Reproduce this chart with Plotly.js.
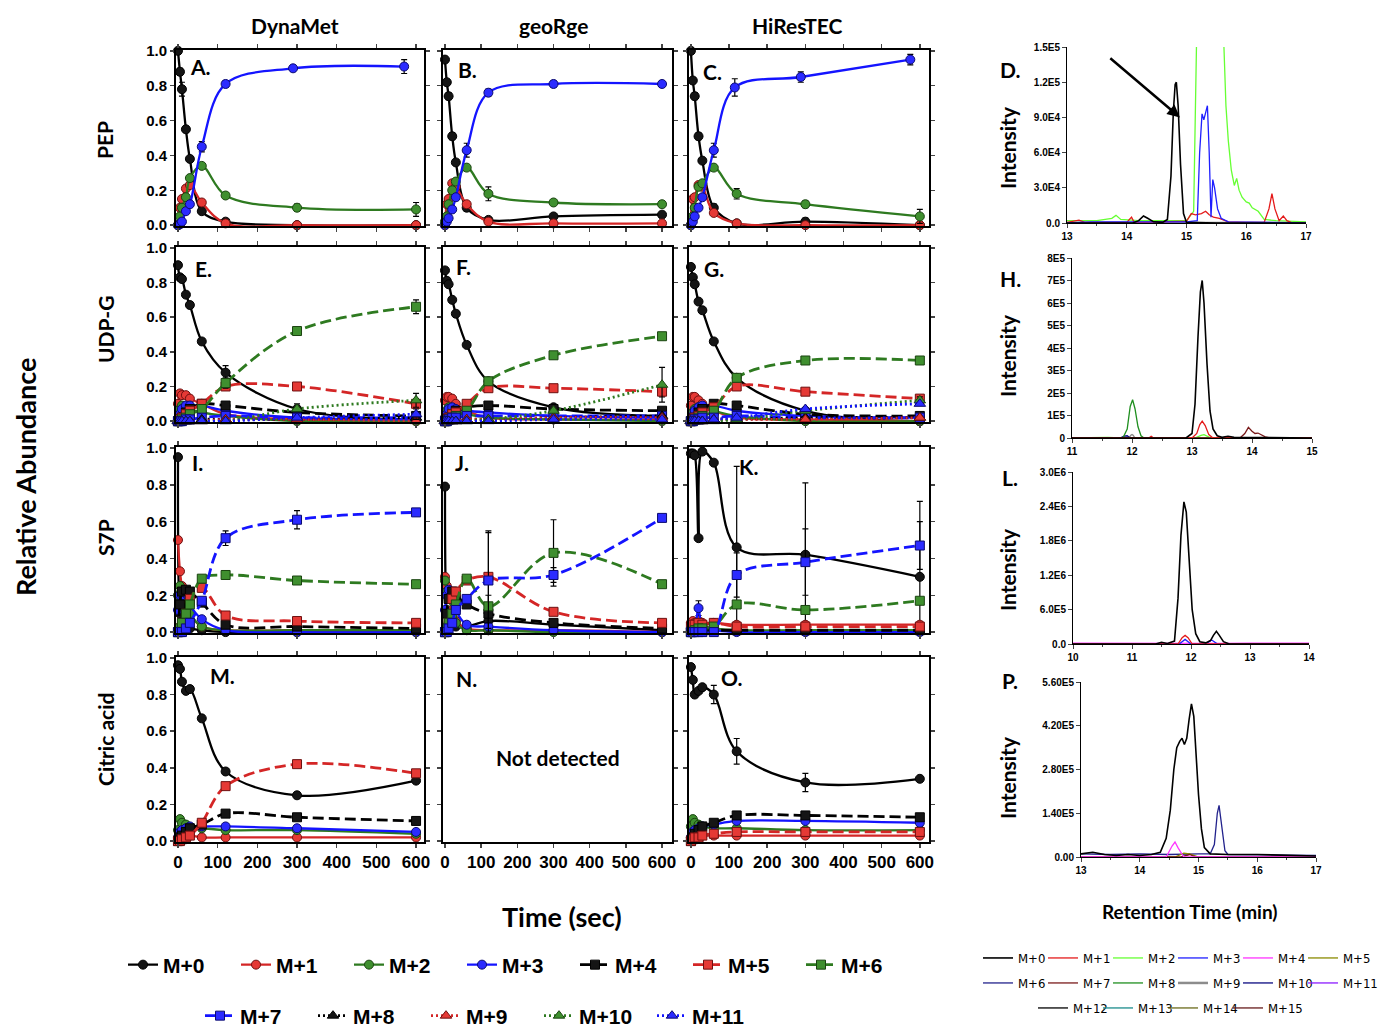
<!DOCTYPE html>
<html><head><meta charset="utf-8">
<script src="https://cdn.plot.ly/plotly-3.0.1.min.js"></script>
<style>html,body{margin:0;padding:0;background:#fff}#chart{width:1379px;height:1031px}</style>
</head><body><div id="chart"></div>
<script>
// ---------------- DATA ----------------
const T    = [0, 5, 10, 20, 30, 60, 120, 300, 600];
const T_A3 = [0, 5, 10, 20, 30, 60, 120, 290, 570];
const T_C3 = [0, 5, 10, 20, 30, 60, 115, 288, 575];

// A. PEP DynaMet
const A_M0 = [1.0, 0.88, 0.78, 0.55, 0.38, 0.08, 0.02, 0.0, 0.0];
const A_M1 = [0.0, 0.10, 0.15, 0.21, 0.23, 0.13, 0.01, 0.0, 0.0];
const A_M2 = [0.0, 0.05, 0.10, 0.16, 0.27, 0.34, 0.17, 0.10, 0.09];
const A_M3 = [0.0, 0.005, 0.02, 0.08, 0.12, 0.45, 0.81, 0.90, 0.91];
const A_M0_ERR = [null, 0.02, 0.04, 0.01, 0.01, 0.01, null, null, null];
const A_M2_ERR = [null, null, null, null, null, null, 0.015, 0.02, 0.04];
const A_M3_ERR = [null, null, null, null, null, 0.03, 0.02, 0.015, 0.04];
// B. PEP geoRge
const B_M0 = [0.95, 0.82, 0.74, 0.51, 0.36, 0.10, 0.03, 0.05, 0.06];
const B_M1 = [0.0, 0.12, 0.15, 0.24, 0.22, 0.12, 0.02, 0.01, 0.01];
const B_M2 = [0.02, 0.05, 0.12, 0.20, 0.25, 0.33, 0.18, 0.13, 0.12];
const B_M3 = [0.0, 0.02, 0.04, 0.09, 0.16, 0.43, 0.76, 0.81, 0.81];
const B_M0_ERR = [null, 0.01, 0.02, 0.02, 0.01, 0.02, null, null, null];
const B_M2_ERR = [null, null, null, null, null, null, 0.04, 0.01, null];
const B_M3_ERR = [null, null, null, null, null, 0.04, 0.02, 0.02, null];
// C. PEP HiResTEC
const C_M0 = [1.0, 0.83, 0.74, 0.51, 0.37, 0.10, 0.01, 0.02, 0.0];
const C_M1 = [0.0, 0.15, 0.16, 0.23, 0.22, 0.07, 0.01, 0.0, 0.0];
const C_M2 = [0.0, 0.05, 0.10, 0.22, 0.24, 0.33, 0.18, 0.12, 0.05];
const C_M3 = [0.0, 0.02, 0.05, 0.10, 0.16, 0.43, 0.79, 0.85, 0.95];
const C_M0_ERR = [null, 0.01, 0.02, 0.02, 0.01, 0.02, null, 0.02, null];
const C_M2_ERR = [null, null, null, null, null, null, 0.03, 0.02, 0.04];
const C_M3_ERR = [null, null, null, null, null, 0.04, 0.05, 0.03, 0.03];
// E. UDP-G DynaMet
const E_M0  = [0.90, 0.83, 0.82, 0.73, 0.67, 0.46, 0.28, 0.07, 0.01];
const E_M1  = [0.10, 0.16, 0.15, 0.15, 0.13, 0.10, 0.04, 0.01, 0.0];
const E_M2  = [0.01, 0.07, 0.09, 0.08, 0.07, 0.05, 0.03, 0.0, 0.0];
const E_M3  = [0.0, 0.04, 0.07, 0.09, 0.09, 0.09, 0.06, 0.02, 0.01];
const E_M4  = [0.0, 0.01, 0.02, 0.05, 0.07, 0.10, 0.09, 0.05, 0.03];
const E_M5  = [0.0, 0.01, 0.02, 0.04, 0.06, 0.10, 0.20, 0.20, 0.10];
const E_M6  = [0.0, 0.0, 0.01, 0.02, 0.04, 0.07, 0.22, 0.52, 0.66];
const E_M7  = [0.0, 0.0, 0.0, 0.01, 0.01, 0.02, 0.03, 0.02, 0.02];
const E_M8  = [0.0, 0.0, 0.0, 0.0, 0.0, 0.01, 0.01, 0.01, 0.02];
const E_M9  = [0.0, 0.0, 0.0, 0.0, 0.0, 0.0, 0.01, 0.01, 0.0];
const E_M10 = [0.0, 0.0, 0.0, 0.0, 0.0, 0.0, 0.0, 0.07, 0.12];
const E_M11 = [0.0, 0.0, 0.0, 0.0, 0.0, 0.0, 0.0, 0.02, 0.04];
const E_M0_ERR  = [null, null, null, null, null, null, 0.04, 0.03, null];
const E_M6_ERR  = [null, null, null, null, null, null, 0.03, 0.01, 0.04];
const E_M10_ERR = [null, null, null, null, null, null, null, null, 0.04];
const E_M11_ERR = [null, null, null, null, null, null, null, null, 0.03];
// F. UDP-G geoRge
const F_M0  = [0.87, 0.81, 0.79, 0.70, 0.62, 0.44, 0.23, 0.08, 0.03];
const F_M1  = [0.12, 0.14, 0.14, 0.13, 0.10, 0.06, 0.02, 0.01, 0.01];
const F_M2  = [0.02, 0.06, 0.08, 0.07, 0.06, 0.04, 0.02, 0.01, 0.0];
const F_M3  = [0.0, 0.04, 0.07, 0.08, 0.07, 0.06, 0.05, 0.03, 0.02];
const F_M4  = [0.0, 0.01, 0.02, 0.04, 0.06, 0.08, 0.09, 0.07, 0.06];
const F_M5  = [0.0, 0.01, 0.02, 0.04, 0.05, 0.10, 0.19, 0.19, 0.17];
const F_M6  = [0.0, 0.0, 0.01, 0.02, 0.03, 0.06, 0.23, 0.38, 0.49];
const F_M7  = [0.0, 0.0, 0.01, 0.02, 0.02, 0.03, 0.03, 0.03, 0.03];
const F_M8  = [0.0, 0.0, 0.0, 0.0, 0.0, 0.01, 0.01, 0.02, 0.03];
const F_M9  = [0.0, 0.0, 0.0, 0.0, 0.0, 0.01, 0.01, 0.02, 0.02];
const F_M10 = [0.0, 0.0, 0.0, 0.0, 0.0, 0.0, 0.01, 0.06, 0.21];
const F_M11 = [0.0, 0.0, 0.0, 0.0, 0.0, 0.0, 0.0, 0.01, 0.01];
const F_M5_ERR  = [null, null, null, null, null, null, null, null, 0.03];
const F_M6_ERR  = [null, null, null, null, null, null, null, 0.02, null];
const F_M10_ERR = [null, null, null, null, null, null, null, null, 0.10];
// G. UDP-G HiResTEC
const G_M0  = [0.89, 0.83, 0.79, 0.69, 0.64, 0.46, 0.25, 0.06, 0.0];
const G_M1  = [0.09, 0.14, 0.14, 0.12, 0.10, 0.06, 0.02, 0.01, 0.0];
const G_M2  = [0.01, 0.05, 0.07, 0.08, 0.08, 0.06, 0.03, 0.0, 0.0];
const G_M3  = [0.0, 0.03, 0.06, 0.08, 0.09, 0.09, 0.06, 0.03, 0.02];
const G_M4  = [0.0, 0.01, 0.02, 0.05, 0.07, 0.10, 0.09, 0.04, 0.03];
const G_M5  = [0.0, 0.01, 0.02, 0.03, 0.05, 0.08, 0.20, 0.17, 0.13];
const G_M6  = [0.0, 0.0, 0.01, 0.02, 0.03, 0.06, 0.25, 0.35, 0.35];
const G_M7  = [0.0, 0.0, 0.01, 0.01, 0.02, 0.02, 0.03, 0.02, 0.02];
const G_M8  = [0.0, 0.0, 0.0, 0.0, 0.0, 0.01, 0.01, 0.02, 0.02];
const G_M9  = [0.0, 0.0, 0.0, 0.0, 0.0, 0.01, 0.01, 0.01, 0.02];
const G_M10 = [0.0, 0.0, 0.0, 0.0, 0.0, 0.0, 0.01, 0.06, 0.12];
const G_M11 = [0.0, 0.0, 0.0, 0.0, 0.0, 0.01, 0.02, 0.07, 0.10];
const G_M6_ERR  = [null, null, null, null, null, null, null, null, 0.02];
const G_M10_ERR = [null, null, null, null, null, null, null, null, 0.02];
// I. S7P DynaMet
const I_M0 = [0.95, 0.10, 0.05, 0.03, 0.02, 0.01, 0.0, 0.0, 0.0];
const I_M1 = [0.50, 0.33, 0.25, 0.17, 0.10, 0.03, 0.01, 0.01, 0.01];
const I_M2 = [0.20, 0.25, 0.22, 0.15, 0.10, 0.03, 0.01, 0.01, 0.01];
const I_M3 = [0.12, 0.20, 0.20, 0.21, 0.15, 0.07, 0.01, 0.0, 0.0];
const I_M4 = [0.0, 0.15, 0.22, 0.23, 0.22, 0.16, 0.04, 0.03, 0.02];
const I_M5 = [0.0, 0.02, 0.05, 0.10, 0.18, 0.24, 0.09, 0.06, 0.05];
const I_M6 = [0.0, 0.02, 0.05, 0.10, 0.15, 0.29, 0.31, 0.28, 0.26];
const I_M7 = [0.0, 0.0, 0.0, 0.02, 0.05, 0.17, 0.51, 0.61, 0.65];
const I_M7_ERR = [null, null, null, null, null, null, 0.04, 0.05, null];
// J. S7P geoRge
const J_M0 = [0.79, 0.10, 0.05, 0.04, 0.03, 0.03, 0.06, 0.04, 0.01];
const J_M1 = [0.30, 0.25, 0.20, 0.12, 0.06, 0.02, 0.01, 0.01, 0.0];
const J_M2 = [0.28, 0.22, 0.18, 0.12, 0.05, 0.01, 0.01, 0.0, 0.0];
const J_M3 = [0.12, 0.20, 0.23, 0.20, 0.12, 0.04, 0.03, 0.01, 0.0];
const J_M4 = [0.0, 0.10, 0.18, 0.22, 0.20, 0.15, 0.10, 0.05, 0.02];
const J_M5 = [0.0, 0.02, 0.05, 0.18, 0.22, 0.28, 0.30, 0.11, 0.05];
const J_M6 = [0.0, 0.02, 0.05, 0.10, 0.15, 0.29, 0.14, 0.43, 0.26];
const J_M7 = [0.0, 0.0, 0.02, 0.05, 0.12, 0.18, 0.28, 0.31, 0.62];
const J_M4_ERR = [null, null, null, null, null, null, 0.10, null, null];
const J_M5_ERR = [null, null, null, null, null, null, 0.25, null, null];
const J_M6_ERR = [null, null, null, null, null, null, null, 0.18, null];
const J_M7_ERR = [null, null, null, null, null, null, 0.26, 0.04, null];
// K. S7P HiResTEC
const K_M0 = [0.97, 0.97, 0.96, 0.51, 0.98, 0.92, 0.46, 0.42, 0.30];
const K_M1 = [0.05, 0.06, 0.05, 0.06, 0.05, 0.05, 0.04, 0.04, 0.04];
const K_M2 = [0.02, 0.02, 0.02, 0.03, 0.03, 0.02, 0.01, 0.01, 0.01];
const K_M3 = [0.0, 0.01, 0.02, 0.13, 0.03, 0.01, 0.0, 0.0, 0.0];
const K_M4 = [0.0, 0.01, 0.01, 0.02, 0.01, 0.01, 0.01, 0.01, 0.01];
const K_M5 = [0.03, 0.04, 0.04, 0.05, 0.04, 0.05, 0.03, 0.03, 0.03];
const K_M6 = [0.0, 0.0, 0.01, 0.02, 0.02, 0.03, 0.15, 0.12, 0.17];
const K_M7 = [0.0, 0.0, 0.0, 0.0, 0.0, 0.0, 0.31, 0.38, 0.47];
const K_M0_ERR = [null, null, null, null, null, null, 0.44, 0.39, 0.41];
const K_M3_ERR = [null, null, null, 0.04, null, null, null, null, null];
const K_M7_ERR = [null, null, null, null, null, null, 0.12, 0.18, 0.13];
// M. Citric acid DynaMet
const M_M0 = [0.96, 0.94, 0.87, 0.82, 0.83, 0.67, 0.38, 0.25, 0.33];
const M_M1 = [0.0, 0.02, 0.02, 0.02, 0.03, 0.02, 0.02, 0.02, 0.02];
const M_M2 = [0.06, 0.12, 0.10, 0.09, 0.07, 0.07, 0.06, 0.06, 0.04];
const M_M3 = [0.02, 0.05, 0.06, 0.07, 0.08, 0.08, 0.08, 0.07, 0.05];
const M_M4 = [0.0, 0.02, 0.03, 0.05, 0.07, 0.09, 0.15, 0.13, 0.11];
const M_M5 = [0.0, 0.0, 0.01, 0.02, 0.03, 0.10, 0.30, 0.42, 0.37];
// O. Citric acid HiResTEC
const O_M0 = [0.95, 0.88, 0.80, 0.82, 0.84, 0.80, 0.49, 0.32, 0.34];
const O_M1 = [0.02, 0.03, 0.03, 0.03, 0.03, 0.03, 0.03, 0.03, 0.03];
const O_M2 = [0.08, 0.12, 0.10, 0.09, 0.08, 0.07, 0.07, 0.06, 0.06];
const O_M3 = [0.02, 0.05, 0.06, 0.07, 0.08, 0.09, 0.11, 0.11, 0.10];
const O_M4 = [0.0, 0.02, 0.04, 0.06, 0.08, 0.10, 0.14, 0.14, 0.13];
const O_M5 = [0.0, 0.01, 0.02, 0.02, 0.03, 0.04, 0.05, 0.05, 0.05];
const O_M0_ERR = [null, null, null, null, null, 0.05, 0.07, 0.05, null];

// Chromatograms (retention time in min, intensity)
const D_X0 = [13.0, 14.1, 14.2, 14.28, 14.35, 14.45, 14.6, 14.68, 14.74, 14.78, 14.81, 14.83, 14.86, 14.9, 14.95, 15.0, 15.5, 17.0];
const D_Y0 = [0, 0, 2000, 6000, 4000, 1000, 500, 3000, 40000, 95000, 118000, 120000, 100000, 50000, 8000, 500, 0, 0];
const D_X1 = [13.0, 13.2, 13.3, 14.0, 14.08, 14.12, 14.2, 15.0, 15.08, 15.15, 15.25, 15.32, 15.38, 15.45, 15.55, 15.7, 16.0, 16.3, 16.38, 16.43, 16.48, 16.55, 16.62, 16.68, 16.75, 17.0];
const D_Y1 = [500, 2500, 500, 500, 5000, 1000, 500, 1500, 8000, 7000, 8000, 10000, 7000, 5000, 4000, 1000, 500, 500, 12000, 25000, 12000, 2000, 6000, 2000, 500, 0];
const D_X2 = [13.0, 13.5, 13.75, 13.82, 13.9, 14.2, 14.6, 15.0, 15.12, 15.17, 15.2, 15.4, 15.62, 15.66, 15.7, 15.75, 15.8, 15.84, 15.88, 15.93, 16.0, 16.05, 16.1, 16.2, 16.3, 16.5, 17.0];
const D_Y2 = [2000, 2000, 4000, 6500, 3000, 2000, 2000, 2000, 10000, 160000, 250000, 400000, 160000, 100000, 70000, 45000, 32000, 38000, 28000, 22000, 18000, 17000, 13000, 10000, 3000, 2000, 1000];
const D_X3 = [13.0, 13.4, 15.0, 15.18, 15.22, 15.26, 15.29, 15.32, 15.35, 15.38, 15.41, 15.44, 15.47, 15.52, 15.58, 15.7, 17.0];
const D_Y3 = [0, 1000, 1000, 2000, 60000, 93000, 88000, 95000, 100000, 60000, 5000, 37000, 30000, 12000, 4000, 1000, 0];
const D_X9 = [13.0, 17.0];
const D_Y9 = [0, 0];

const H_X0 = [11.0, 12.9, 13.0, 13.05, 13.1, 13.14, 13.17, 13.2, 13.25, 13.3, 13.35, 13.42, 13.5, 13.6, 13.7, 14.0, 15.0];
const H_Y0 = [0, 0, 20000, 150000, 450000, 650000, 700000, 600000, 330000, 120000, 40000, 10000, 3000, 8000, 3000, 2000, 0];
const H_X1 = [11.0, 12.28, 12.32, 12.36, 13.0, 13.08, 13.13, 13.17, 13.22, 13.28, 13.35, 15.0];
const H_Y1 = [0, 0, 8000, 0, 0, 20000, 60000, 75000, 55000, 15000, 0, 0];
const H_X2 = [11.0, 11.4, 11.6, 11.8, 13.05, 13.15, 13.2, 13.3, 15.0];
const H_Y2 = [0, 2000, 3000, 0, 0, 12000, 15000, 2000, 0];
const H_X7 = [11.0, 13.8, 13.88, 13.94, 14.0, 14.05, 14.1, 14.15, 14.22, 14.3, 15.0];
const H_Y7 = [0, 0, 20000, 47000, 30000, 20000, 22000, 15000, 5000, 0, 0];
const H_X8 = [11.0, 11.85, 11.92, 11.97, 12.01, 12.05, 12.1, 12.15, 12.2, 14.0, 14.6, 15.0];
const H_Y8 = [0, 1000, 40000, 140000, 170000, 130000, 50000, 10000, 0, 2000, 1000, 0];
const H_X9 = [11.0, 11.95, 11.98, 12.0, 12.02, 12.05, 15.0];
const H_Y9 = [0, 0, 12000, 15000, 12000, 0, 0];
const H_X10 = [11.0, 11.8, 11.87, 11.92, 11.97, 15.0];
const H_Y10 = [0, 0, 8000, 10000, 0, 0];
const H_XB = [11.0, 15.0];
const H_YB = [0, 0];

const L_X0 = [10.0, 11.4, 11.5, 11.6, 11.72, 11.78, 11.83, 11.88, 11.92, 11.97, 12.02, 12.08, 12.15, 12.25, 12.33, 12.38, 12.43, 12.48, 12.55, 12.65, 14.0];
const L_Y0 = [0, 0, 30000, 10000, 50000, 800000, 1900000, 2480000, 2300000, 1400000, 600000, 180000, 40000, 20000, 60000, 150000, 220000, 150000, 40000, 0, 0];
const L_X1 = [10.0, 11.78, 11.85, 11.9, 11.95, 12.02, 14.0];
const L_Y1 = [0, 0, 110000, 150000, 110000, 0, 0];
const L_X3 = [10.0, 11.8, 11.9, 12.0, 12.25, 12.35, 12.45, 14.0];
const L_Y3 = [0, 0, 80000, 0, 0, 70000, 0, 0];
const L_X4 = [10.0, 10.5, 11.0, 11.5, 12.0, 12.5, 13.0, 13.5, 14.0];
const L_Y4 = [15000, 12000, 15000, 14000, 16000, 12000, 15000, 13000, 15000];

const P_X0 = [13.0, 13.2, 13.4, 13.6, 13.8, 14.0, 14.2, 14.35, 14.45, 14.52, 14.58, 14.63, 14.68, 14.72, 14.76, 14.8, 14.84, 14.88, 14.92, 14.96, 15.0, 15.05, 15.1, 15.2, 15.5, 16.0, 16.5, 17.0];
const P_Y0 = [10000, 15000, 8000, 5000, 8000, 5000, 8000, 15000, 60000, 150000, 280000, 350000, 370000, 380000, 360000, 380000, 440000, 490000, 450000, 330000, 200000, 90000, 30000, 10000, 8000, 8000, 5000, 3000];
const P_X6 = [13.0, 13.5, 14.0, 14.5, 15.0, 15.2, 15.27, 15.32, 15.35, 15.39, 15.45, 15.5, 16.0, 16.5, 17.0];
const P_Y6 = [10000, 8000, 10000, 8000, 10000, 10000, 40000, 140000, 165000, 100000, 20000, 8000, 8000, 6000, 5000];
const P_X4 = [13.0, 14.45, 14.55, 14.6, 14.65, 14.75, 17.0];
const P_Y4 = [0, 0, 35000, 48000, 30000, 0, 0];
const P_X5 = [13.0, 14.6, 14.75, 14.85, 15.0, 17.0];
const P_Y5 = [0, 0, 12000, 10000, 0, 0];
const P_X7 = [13.0, 14.7, 14.85, 14.95, 17.0];
const P_Y7 = [0, 0, 8000, 0, 0];

// tick labels
const TIME_TICKS = [0, 100, 200, 300, 400, 500, 600];
const D_TICKVALS = [0, 30000, 60000, 90000, 120000, 150000];
const D_TICKTEXT = ['0.0', '3.0E4', '6.0E4', '9.0E4', '1.2E5', '1.5E5'];
const H_TICKVALS = [0, 100000, 200000, 300000, 400000, 500000, 600000, 700000, 800000];
const H_TICKTEXT = ['0', '1E5', '2E5', '3E5', '4E5', '5E5', '6E5', '7E5', '8E5'];
const L_TICKVALS = [0, 600000, 1200000, 1800000, 2400000, 3000000];
const L_TICKTEXT = ['0.0', '6.0E5', '1.2E6', '1.8E6', '2.4E6', '3.0E6'];
const P_TICKVALS = [0, 140000, 280000, 420000, 560000];
const P_TICKTEXT = ['0.00', '1.40E5', '2.80E5', '4.20E5', '5.60E5'];

// ---------------- STYLE / LAYOUT ----------------
const W = 1379, H = 1031;
const px = v => v / W, py = v => 1 - v / H;
const LINE_COL = ['#000000', '#d42626', '#2e7a20', '#1414ff'];
const FILL_COL = ['#151515', '#e53935', '#3f8f2f', '#2b2bff'];
const EDGE_COL = ['#000000', '#6e1010', '#1a4410', '#0a0a70'];
const DASHES = ['solid', '11px,5px', '2px,3px'];
const SYMBOLS = ['circle', 'square', 'triangle-up'];
const CH_COL = ['#000000', '#e41a1a', '#66ff33', '#1f1fff', '#ff33ff', '#8a8a00', '#22228c', '#7a1a1a',
                '#1f8f1f', '#8c8c8c', '#0a0a80', '#8c1aff', '#000000', '#1a8c8c', '#6b6b1a', '#661a1a'];

const traces = [];
const ax = (c, i) => c + (i === 1 ? '' : i);

function ts(axi, iso, x, y, err, legendName) {
  const c = iso % 4, g = Math.floor(iso / 4);
  const tr = {
    type: 'scatter', mode: 'lines+markers', x: x, y: y, name: 'M+' + iso,
    xaxis: ax('x', axi), yaxis: ax('y', axi), cliponaxis: false,
    line: {color: LINE_COL[c], width: g === 0 ? 2.3 : 2.8, dash: DASHES[g], shape: 'spline', smoothing: 1},
    marker: {symbol: SYMBOLS[g], size: g === 2 ? 10 : 9, color: FILL_COL[c], line: {color: EDGE_COL[c], width: 1}},
    showlegend: !!legendName, hoverinfo: 'skip'
  };
  if (legendName) tr.legend = legendName;
  if (err) tr.error_y = {type: 'data', array: err, visible: true, color: '#000', thickness: 1.2, width: 3};
  traces.push(tr);
}

// PEP
ts(1, 0, T, A_M0, A_M0_ERR); ts(1, 1, T, A_M1); ts(1, 2, T, A_M2, A_M2_ERR); ts(1, 3, T_A3, A_M3, A_M3_ERR);
ts(2, 0, T, B_M0, B_M0_ERR); ts(2, 1, T, B_M1); ts(2, 2, T, B_M2, B_M2_ERR); ts(2, 3, T, B_M3, B_M3_ERR);
ts(3, 0, T, C_M0, C_M0_ERR); ts(3, 1, T, C_M1); ts(3, 2, T, C_M2, C_M2_ERR); ts(3, 3, T_C3, C_M3, C_M3_ERR);
// UDP-G
const E_ALL = [E_M0, E_M1, E_M2, E_M3, E_M4, E_M5, E_M6, E_M7, E_M8, E_M9, E_M10, E_M11];
const E_ERR = {0: E_M0_ERR, 6: E_M6_ERR, 10: E_M10_ERR, 11: E_M11_ERR};
E_ALL.forEach((v, i) => ts(4, i, T, v, E_ERR[i], i < 7 ? 'legend' : 'legend2'));
const F_ALL = [F_M0, F_M1, F_M2, F_M3, F_M4, F_M5, F_M6, F_M7, F_M8, F_M9, F_M10, F_M11];
const F_ERR = {5: F_M5_ERR, 6: F_M6_ERR, 10: F_M10_ERR};
F_ALL.forEach((v, i) => ts(5, i, T, v, F_ERR[i]));
const G_ALL = [G_M0, G_M1, G_M2, G_M3, G_M4, G_M5, G_M6, G_M7, G_M8, G_M9, G_M10, G_M11];
const G_ERR = {6: G_M6_ERR, 10: G_M10_ERR};
G_ALL.forEach((v, i) => ts(6, i, T, v, G_ERR[i]));
// S7P
const I_ALL = [I_M0, I_M1, I_M2, I_M3, I_M4, I_M5, I_M6, I_M7];
I_ALL.forEach((v, i) => ts(7, i, T, v, i === 7 ? I_M7_ERR : null));
const J_ALL = [J_M0, J_M1, J_M2, J_M3, J_M4, J_M5, J_M6, J_M7];
const J_ERR = {4: J_M4_ERR, 5: J_M5_ERR, 6: J_M6_ERR, 7: J_M7_ERR};
J_ALL.forEach((v, i) => ts(8, i, T, v, J_ERR[i]));
const K_ALL = [K_M0, K_M1, K_M2, K_M3, K_M4, K_M5, K_M6, K_M7];
const K_ERR = {0: K_M0_ERR, 3: K_M3_ERR, 7: K_M7_ERR};
K_ALL.forEach((v, i) => ts(9, i, T, v, K_ERR[i]));
// Citric acid
const M_ALL = [M_M0, M_M1, M_M2, M_M3, M_M4, M_M5];
M_ALL.forEach((v, i) => ts(10, i, T, v, null));
// N: not detected -> empty subplot
traces.push({type: 'scatter', mode: 'markers', x: [], y: [], xaxis: 'x11', yaxis: 'y11', showlegend: false, hoverinfo: 'skip'});
const O_ALL = [O_M0, O_M1, O_M2, O_M3, O_M4, O_M5];
O_ALL.forEach((v, i) => ts(12, i, T, v, i === 0 ? O_M0_ERR : null));

// chromatograms
const seen = {};
const LAST_IN_ROW = {5: true, 11: true, 15: true};
function ch(axi, iso, x, y, width) {
  const first = !seen[iso]; seen[iso] = true;
  const tr = {
    type: 'scatter', mode: 'lines', x: x, y: y, name: 'M+' + iso,
    xaxis: ax('x', axi), yaxis: ax('y', axi),
    line: {color: CH_COL[iso], width: width || 1.3},
    showlegend: first, legendrank: iso,
    legend: iso < 6 ? 'legend3' : (iso < 12 ? 'legend4' : 'legend5'),
    hoverinfo: 'skip'
  };
  if (LAST_IN_ROW[iso]) tr.legendwidth = 30;
  traces.push(tr);
}
ch(13, 9, D_X9, D_Y9, 2.5);
ch(13, 2, D_X2, D_Y2); ch(13, 1, D_X1, D_Y1); ch(13, 3, D_X3, D_Y3); ch(13, 0, D_X0, D_Y0, 1.6);
[11, 12, 13, 14, 15].forEach(i => ch(14, i, H_XB, H_YB));
ch(14, 9, H_X9, H_Y9); ch(14, 10, H_X10, H_Y10); ch(14, 2, H_X2, H_Y2); ch(14, 8, H_X8, H_Y8);
ch(14, 7, H_X7, H_Y7); ch(14, 1, H_X1, H_Y1); ch(14, 0, H_X0, H_Y0, 1.6);
ch(15, 4, L_X4, L_Y4); ch(15, 3, L_X3, L_Y3); ch(15, 1, L_X1, L_Y1); ch(15, 0, L_X0, L_Y0, 1.6);
ch(16, 6, P_X6, P_Y6); ch(16, 5, P_X5, P_Y5); ch(16, 7, P_X7, P_Y7); ch(16, 4, P_X4, P_Y4); ch(16, 0, P_X0, P_Y0, 1.6);

// ---- layout ----
const layout = {
  width: W, height: H, autosize: false, margin: {l: 0, r: 0, t: 0, b: 0, pad: 0, autoexpand: false},
  paper_bgcolor: '#fff', plot_bgcolor: 'rgba(0,0,0,0)', showlegend: true,
  font: {family: 'Liberation Sans, Arial, sans-serif', color: '#000'},
  annotations: [], shapes: []
};
const COLS = [[176, 424], [443, 672], [689, 929]];
const XR = [[-5, 620], [-5.5, 627.5], [-5, 624]];
const ROWS = [[50, 226], [247, 422], [447, 633], [657, 842]];
let k = 1;
for (let r = 0; r < 4; r++) {
  for (let c = 0; c < 3; c++) {
    const xa = {
      domain: [px(COLS[c][0]), px(COLS[c][1])], range: XR[c], anchor: ax('y', k),
      showline: true, linewidth: 2, linecolor: '#000', mirror: 'ticks', ticks: 'outside', ticklen: 4, tickwidth: 1.5,
      tickvals: TIME_TICKS, showgrid: false, zeroline: false, showticklabels: r === 3,
      tickfont: {size: 17, weight: 'bold', family: 'Liberation Sans, Arial'}
    };
    const ya = {
      domain: [py(ROWS[r][1]), py(ROWS[r][0])], range: [-0.005, 1.005], anchor: ax('x', k),
      showline: true, linewidth: 2, linecolor: '#000', mirror: 'ticks', ticks: 'outside', ticklen: 4, tickwidth: 1.5,
      tick0: 0, dtick: 0.2, tickformat: '.1f', showgrid: false, zeroline: false, showticklabels: c === 0,
      tickfont: {size: 15, weight: 'bold', family: 'Liberation Sans, Arial'}
    };
    layout['xaxis' + (k === 1 ? '' : k)] = xa;
    layout['yaxis' + (k === 1 ? '' : k)] = ya;
    k++;
  }
}
// chromatogram axes
const CHR = [
  {k: 13, x: [1067, 1306], y: [47, 223], xr: [13, 17], yr: [0, 150000], tv: D_TICKVALS, tt: D_TICKTEXT},
  {k: 14, x: [1072, 1312], y: [258, 438], xr: [11, 15], yr: [0, 800000], tv: H_TICKVALS, tt: H_TICKTEXT},
  {k: 15, x: [1073, 1309], y: [472, 644], xr: [10, 14], yr: [0, 3000000], tv: L_TICKVALS, tt: L_TICKTEXT},
  {k: 16, x: [1081, 1316], y: [682, 857], xr: [13, 17], yr: [0, 560000], tv: P_TICKVALS, tt: P_TICKTEXT}
];
CHR.forEach(o => {
  layout['xaxis' + o.k] = {
    domain: [px(o.x[0]), px(o.x[1])], range: o.xr, anchor: 'y' + o.k, dtick: 1,
    showline: true, linewidth: 1, linecolor: '#000', ticks: 'outside', ticklen: 4,
    minor: {ticks: 'outside', ticklen: 2, dtick: 0.5}, showgrid: false, zeroline: false,
    tickfont: {size: 10, weight: 'bold', family: 'Liberation Sans, Arial'}
  };
  layout['yaxis' + o.k] = {
    domain: [py(o.y[1]), py(o.y[0])], range: o.yr, anchor: 'x' + o.k,
    tickvals: o.tv, ticktext: o.tt, showline: true, linewidth: 1, linecolor: '#000', ticks: 'outside', ticklen: 4,
    showgrid: false, zeroline: false, tickfont: {size: 10, weight: 'bold', family: 'Liberation Sans, Arial'}
  };
});

// legends
const LEG_BIG = {family: 'Liberation Sans, Arial', size: 21, weight: 'bold', color: '#000'};
const LEG_SMALL = {family: 'Liberation Sans Narrow, DejaVu Sans Condensed, Arial', size: 13, color: '#000'};
layout.legend  = {orientation: 'h', x: px(123), y: py(965), xanchor: 'left', yanchor: 'middle', entrywidth: 68, font: LEG_BIG, bgcolor: 'rgba(0,0,0,0)', tracegroupgap: 0};
layout.legend2 = {orientation: 'h', x: px(200), y: py(1016), xanchor: 'left', yanchor: 'middle', entrywidth: 68, font: LEG_BIG, bgcolor: 'rgba(0,0,0,0)', tracegroupgap: 0};
layout.legend3 = {orientation: 'h', x: px(978), y: py(958), xanchor: 'left', yanchor: 'middle', entrywidth: 20, font: LEG_SMALL, bgcolor: 'rgba(0,0,0,0)', tracegroupgap: 0};
layout.legend4 = {orientation: 'h', x: px(978), y: py(983), xanchor: 'left', yanchor: 'middle', entrywidth: 20, font: LEG_SMALL, bgcolor: 'rgba(0,0,0,0)', tracegroupgap: 0};
layout.legend5 = {orientation: 'h', x: px(1033), y: py(1008), xanchor: 'left', yanchor: 'middle', entrywidth: 20, font: LEG_SMALL, bgcolor: 'rgba(0,0,0,0)', tracegroupgap: 0};

// text
const HEAD = 'Lato, Open Sans, Liberation Sans, sans-serif';
function txt(s, x, y, size, opts) {
  layout.annotations.push(Object.assign({
    text: s, x: px(x), y: py(y), xref: 'paper', yref: 'paper', showarrow: false,
    xanchor: 'center', yanchor: 'middle', font: {family: HEAD, size: size, weight: 'bold', color: '#000'}
  }, opts || {}));
}
txt('DynaMet', 295, 25, 21); txt('geoRge', 553, 25, 21); txt('HiResTEC', 797, 25, 21);
txt('PEP', 105, 140, 21, {textangle: -90});
txt('UDP-G', 105, 330, 21, {textangle: -90});
txt('S7P', 105, 538, 21, {textangle: -90});
txt('Citric acid', 105, 740, 21, {textangle: -90});
txt('Relative Abundance', 25, 477, 27, {textangle: -90});
txt('Time (sec)', 562, 916, 27);
txt('Retention Time (min)', 1190, 911, 19);
[148, 356, 570, 778].forEach(yy => txt('Intensity', 1007, yy, 21, {textangle: -90}));
txt('Not detected', 558, 757, 21);
const LBL = [['A.', 200, 67], ['B.', 467, 70], ['C.', 712, 71], ['E.', 203, 268], ['F.', 463, 266], ['G.', 714, 268],
  ['I.', 197, 462], ['J.', 462, 463], ['K.', 748, 466], ['M.', 222, 675], ['N.', 466, 678], ['O.', 732, 677],
  ['D.', 1010, 70], ['H.', 1010, 278], ['L.', 1010, 478], ['P.', 1010, 680]];
LBL.forEach(l => txt(l[0], l[1], l[2], 21));
// arrow in D
layout.annotations.push({x: 14.89, y: 90000, xref: 'x13', yref: 'y13', ax: 13.70, ay: 141500, axref: 'x13', ayref: 'y13',
  text: '', showarrow: true, arrowhead: 2, arrowsize: 1, arrowwidth: 2.5, arrowcolor: '#000'});

Plotly.newPlot('chart', traces, layout, {staticPlot: true});
</script></body></html>
